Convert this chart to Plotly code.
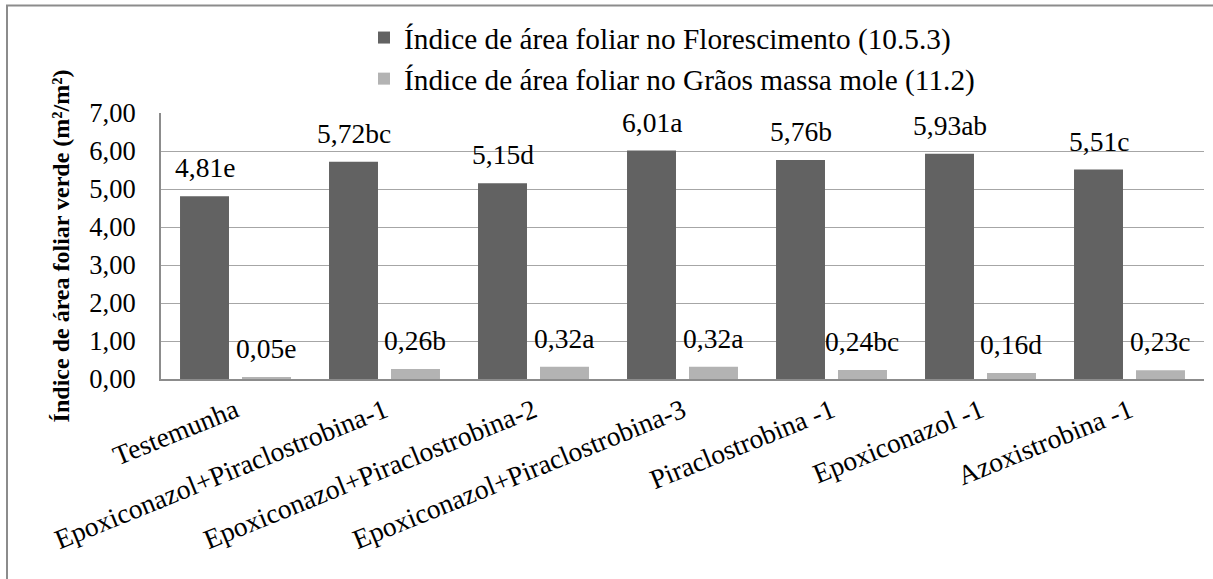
import plotly.graph_objects as go

categories = [
    "Testemunha",
    "Epoxiconazol+Piraclostrobina-1",
    "Epoxiconazol+Piraclostrobina-2",
    "Epoxiconazol+Piraclostrobina-3",
    "Piraclostrobina -1",
    "Epoxiconazol -1",
    "Azoxistrobina -1",
]
series_names = [
    "Índice de área foliar no Florescimento (10.5.3)",
    "Índice de área foliar no Grãos massa mole (11.2)",
]
flor_values = [4.81, 5.72, 5.15, 6.01, 5.76, 5.93, 5.51]
flor_letters = ["e", "bc", "d", "a", "b", "ab", "c"]
graos_values = [0.05, 0.26, 0.32, 0.32, 0.24, 0.16, 0.23]
graos_letters = ["e", "b", "a", "a", "bc", "d", "c"]
y_ticks = [0, 1, 2, 3, 4, 5, 6, 7]
y_title = "Índice de área foliar verde (m²/m²)"

FONT = "'Liberation Serif', 'Times New Roman', serif"
FS = 26.5
DARK = "#626262"
LIGHT = "#b3b3b3"
BARGAP = 0.168
BARGROUPGAP = 0.21

W, H = 1213, 579
ML, MR, MT, MB = 161, 9, 113, 200
PW = W - ML - MR
PH = H - MT - MB

fig = go.Figure()
fig.add_trace(go.Bar(x=categories, y=flor_values, name=series_names[0],
                     marker=dict(color=DARK, line=dict(width=0)),
                     legendgroup="a"))
fig.add_trace(go.Bar(x=categories, y=graos_values, name=series_names[1],
                     marker=dict(color=LIGHT, line=dict(width=0)),
                     legendgroup="b"))

def fmt(v):
    return f"{v:.2f}".replace(".", ",")

offset = (1 - BARGAP) / 4
annotations = []
for i, (v, l) in enumerate(zip(flor_values, flor_letters)):
    annotations.append(dict(x=i - offset, y=v, xref="x", yref="y",
                            text=fmt(v) + l, showarrow=False,
                            yanchor="bottom", xanchor="center", yshift=11,
                            font=dict(family=FONT, size=27.5, color="#000")))
for i, (v, l) in enumerate(zip(graos_values, graos_letters)):
    annotations.append(dict(x=i + offset, y=v, xref="x", yref="y",
                            text=fmt(v) + l, showarrow=False,
                            yanchor="bottom", xanchor="center", yshift=11,
                            font=dict(family=FONT, size=27.5, color="#000")))

fig.update_layout(
    width=W, height=H,
    margin=dict(l=ML, r=MR, t=MT, b=MB, pad=0),
    paper_bgcolor="white", plot_bgcolor="white",
    barmode="group", bargap=BARGAP, bargroupgap=BARGROUPGAP,
    separators=",.",
    font=dict(family=FONT, size=FS, color="#000"),
    annotations=annotations,
    showlegend=True,
    legend=dict(x=(364 - ML) / PW, xanchor="left",
                y=(PH + MT - 12) / PH, yanchor="top",
                orientation="v", tracegroupgap=0,
                font=dict(family=FONT, size=29.3, color="#000"),
                bgcolor="rgba(0,0,0,0)", itemwidth=30),
    shapes=[dict(type="rect", xref="paper", yref="paper",
                 x0=(7 - ML) / PW, x1=(W + 100 - ML) / PW,
                 y0=-(H + 100 - MT - PH) / PH, y1=(MT + PH - 5.5) / PH,
                 line=dict(color="#8c8c8c", width=2), layer="below")],
)
fig.update_yaxes(range=[0, 7], tickvals=y_ticks, tickformat=".2f",
                 showgrid=True, gridcolor="#a6a6a6", gridwidth=1.3,
                 showline=True, linecolor="#8c8c8c", linewidth=2,
                 zeroline=False, ticks="", ticklabelstandoff=18,
                 automargin=False,
                 tickfont=dict(family=FONT, size=FS, color="#000"),
                 title=dict(text="<b>" + y_title + "</b>", standoff=13,
                            font=dict(family=FONT, size=24, color="#000")))
fig.update_xaxes(showline=True, linecolor="#8c8c8c", linewidth=2,
                 ticks="", tickangle=-22, ticklabelstandoff=3,
                 automargin=False,
                 tickfont=dict(family=FONT, size=27.5, color="#000"))

fig.write_html("out.html",
               config={"displayModeBar": False},
               post_script="document.body.style.margin='0px';document.body.style.overflow='hidden';")
